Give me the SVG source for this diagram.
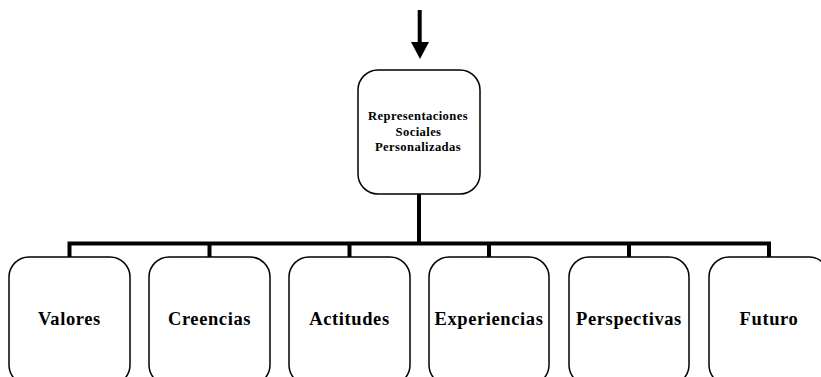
<svg xmlns="http://www.w3.org/2000/svg" width="821" height="377" viewBox="0 0 821 377">
<style>
.box{fill:#fff;stroke:#000;stroke-width:1.5}
.t{font-family:"Liberation Serif","Times New Roman",serif;font-weight:bold;fill:#000;text-anchor:middle}
.c{font-size:18.5px;letter-spacing:0.6px}
.m{font-size:12.6px;letter-spacing:0.4px}
.ln{stroke:#000;stroke-width:4;fill:none}
</style>
<rect width="821" height="377" fill="#fff"/>
<g id="connectors">
<line class="ln" x1="419.7" y1="10" x2="419.7" y2="44"/>
<polygon points="411,42 429,42 420,59" fill="#000"/>
<line class="ln" x1="419" y1="194" x2="419" y2="243.5"/>
<polyline class="ln" points="69.5,257 69.5,243.5 769,243.5 769,257"/>
<line class="ln" x1="209.5" y1="243.5" x2="209.5" y2="257"/>
<line class="ln" x1="349.5" y1="243.5" x2="349.5" y2="257"/>
<line class="ln" x1="489" y1="243.5" x2="489" y2="257"/>
<line class="ln" x1="629" y1="243.5" x2="629" y2="257"/>
</g>
<g id="center">
<rect class="box" x="358" y="70" width="122" height="124" rx="20"/>
<text class="t m" x="418" y="120">Representaciones</text>
<text class="t m" x="418.5" y="135.5">Sociales</text>
<text class="t m" x="418" y="151">Personalizadas</text>
</g>
<g id="valores">
<rect class="box" x="9" y="257" width="121" height="128" rx="20"/>
<text class="t c" x="69.5" y="325">Valores</text>
</g>
<g id="creencias">
<rect class="box" x="149" y="257" width="121" height="128" rx="20"/>
<text class="t c" x="209.5" y="325">Creencias</text>
</g>
<g id="actitudes">
<rect class="box" x="289" y="257" width="121" height="128" rx="20"/>
<text class="t c" x="349.5" y="325">Actitudes</text>
</g>
<g id="experiencias">
<rect class="box" x="429" y="257" width="120" height="128" rx="20"/>
<text class="t c" x="489" y="325">Experiencias</text>
</g>
<g id="perspectivas">
<rect class="box" x="569" y="257" width="120" height="128" rx="20"/>
<text class="t c" x="629" y="325">Perspectivas</text>
</g>
<g id="futuro">
<rect class="box" x="709" y="257" width="120" height="128" rx="20"/>
<text class="t c" x="769" y="325">Futuro</text>
</g>
</svg>
